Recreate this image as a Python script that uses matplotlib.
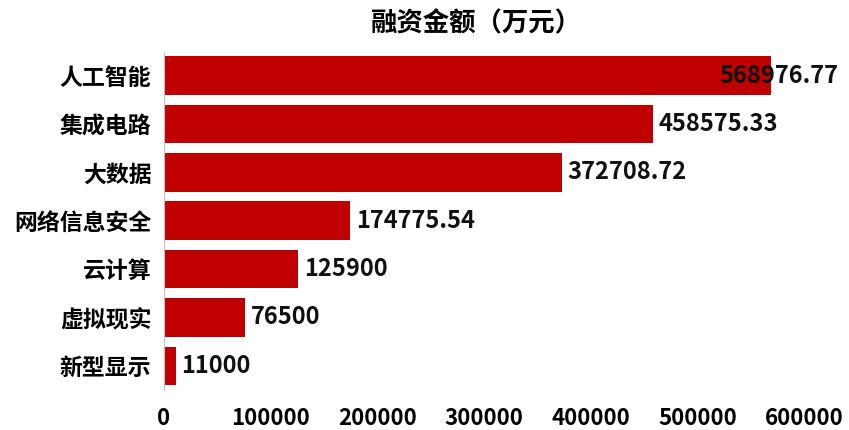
import matplotlib
matplotlib.use("Agg")
import matplotlib.pyplot as plt

plt.rcParams['font.family'] = ['Noto Sans CJK SC', 'DejaVu Sans']

# 数据
categories = ["人工智能", "集成电路", "大数据", "网络信息安全", "云计算", "虚拟现实", "新型显示"]
amounts = [568976.77, 458575.33, 372708.72, 174775.54, 125900, 76500, 11000]
labels = ["568976.77", "458575.33", "372708.72", "174775.54", "125900", "76500", "11000"]
xticks = [0, 100000, 200000, 300000, 400000, 500000, 600000]

fig = plt.figure(figsize=(8.49, 4.30), dpi=100)
ax = fig.add_axes([0.193, 0.093, 0.754, 0.787])

y = list(range(len(categories)))
ax.barh(y, amounts, height=0.8, color="#C00000")
ax.set_ylim(len(categories) - 0.5, -0.5)
ax.set_xlim(0, 600000)

for i, (v, t) in enumerate(zip(amounts, labels)):
    # 最长的一条标签压在条形内部
    dx = -37 if v > 520000 else 4
    ax.annotate(t, (v, i), xytext=(dx, 0), textcoords="offset points",
                va="center", ha="left", fontsize=17, fontweight="bold", color="#111111")

ax.set_yticks(y)
ax.set_yticklabels(categories, fontsize=16.5, fontweight="bold")
ax.set_xticks(xticks)
ax.set_xticklabels([str(t) for t in xticks], fontsize=16, fontweight="bold")
ax.tick_params(axis="both", length=0)
ax.tick_params(axis="x", pad=12)
ax.tick_params(axis="y", pad=9)

for s in ["top", "right", "bottom"]:
    ax.spines[s].set_visible(False)
ax.spines["left"].set_color("#bfbfbf")
ax.spines["left"].set_linewidth(0.8)

fig.text(0.561, 0.945, "融资金额（万元）", ha="center", va="center",
         fontsize=19, fontweight="bold")

fig.savefig("out.png", dpi=100)
